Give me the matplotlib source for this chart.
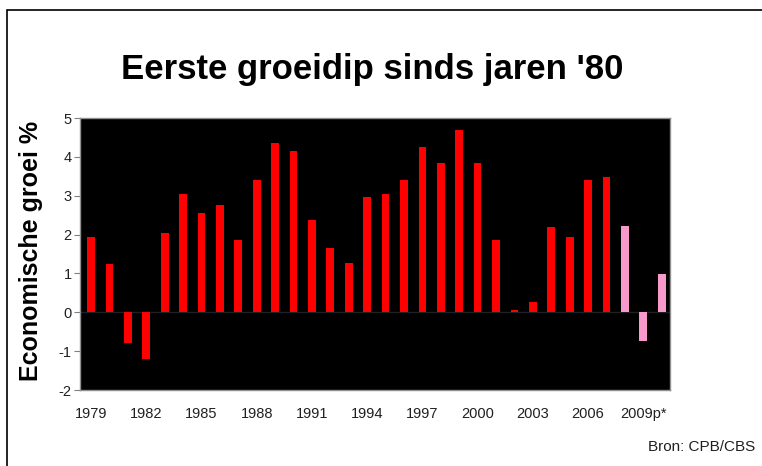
import matplotlib
import matplotlib.pyplot as plt
from matplotlib.patches import Rectangle

matplotlib.use('agg')

plt.rcParams['font.family'] = ['Liberation Sans', 'DejaVu Sans']
plt.rcParams['axes.unicode_minus'] = False

# groei per jaar, 2008 t/m 2010 zijn ramingen
years = list(range(1979, 2011))
growth = [1.95, 1.25, -0.8, -1.2, 2.05, 3.05, 2.55, 2.77, 1.85, 3.4,
          4.35, 4.15, 2.37, 1.66, 1.26, 2.96, 3.04, 3.4, 4.25, 3.85,
          4.68, 3.85, 1.85, 0.07, 0.27, 2.2, 1.95, 3.4, 3.48, 2.22,
          -0.74, 0.99]
forecast_from = 2008
tick_years = [1979, 1982, 1985, 1988, 1991, 1994, 1997, 2000, 2003, 2006, 2009]
tick_labels = ['1979', '1982', '1985', '1988', '1991', '1994', '1997',
               '2000', '2003', '2006', '2009p*']

colors = ['#f79acb' if y >= forecast_from else '#ff0000' for y in years]

fig = plt.figure(figsize=(7.62, 4.66), dpi=100)
fig.patch.set_facecolor('white')

# buitenkader
fig.patches.append(Rectangle((7 / 762, -0.1), 1.2, 1 - 10 / 466 + 0.1,
                             transform=fig.transFigure, fill=False,
                             edgecolor='black', linewidth=1.2))

ax = fig.add_axes([80 / 762, 1 - 390 / 466, 590 / 762, 272 / 466])
ax.set_facecolor('black')

x = list(range(len(years)))
ax.bar(x, growth, width=0.42, color=colors, zorder=2)
ax.axhline(0, color='#202020', linewidth=1, zorder=1)

ax.set_xlim(-0.6, len(years) - 1 + 0.45)
ax.set_ylim(-2, 5)
ax.set_yticks(range(-2, 6))
ax.set_xticks([years.index(y) for y in tick_years])
ax.set_xticklabels(tick_labels)

ax.tick_params(axis='y', length=4, color='#808080', labelsize=10.5,
               labelcolor='#202020', pad=2)
ax.tick_params(axis='x', length=0, labelsize=10.5, labelcolor='#202020',
               pad=12)
for s in ax.spines.values():
    s.set_color('#909090')
    s.set_linewidth(1)

fig.text(372 / 762, 1 - 69 / 466, "Eerste groeidip sinds jaren '80",
         ha='center', va='center', fontsize=25, fontweight='bold')
fig.text(31 / 762, 1 - 251 / 466, 'Economische groei %', rotation=90,
         ha='center', va='center', fontsize=18, fontweight='bold')
fig.text(648 / 762, 1 - 447 / 466, 'Bron: CPB/CBS', ha='left',
         va='center', fontsize=11, color='#202020')

plt.savefig('out.png', dpi=100)
plt.close()
